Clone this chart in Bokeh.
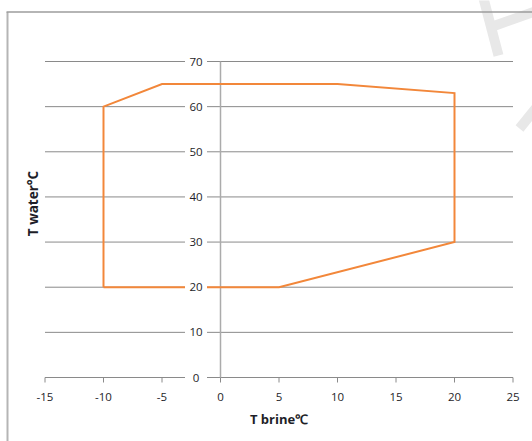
import math
from bokeh.plotting import figure
from bokeh.models import Range1d
from bokeh.embed import file_html
from bokeh.resources import INLINE
from bokeh.core.properties import value

# ---- data ----
brine = [-10, -10, -5, 10, 20, 20, 5, -10]
water = [20, 60, 65, 65, 63, 30, 20, 20]
x_ticks = [-15, -10, -5, 0, 5, 10, 15, 20, 25]
y_ticks = [0, 10, 20, 30, 40, 50, 60, 70]
x_labels = [str(t) for t in x_ticks]
y_labels = [str(t) for t in y_ticks]
x_title = "T brine\u2103"
y_title = "T water\u00b0C"

# ---- layout (canvas pixels) ----
W, H = 532, 441
X0_PX, Y0_PX = 220.0, 377.0   # canvas position of the data origin
KX, KY = 11.7, 316.0 / 70.0   # pixels per data unit


def dx(px):
    return px / KX


def dy(px):
    return px / KY


def cx(px):
    return (px - X0_PX) / KX


def cy(py):
    return (Y0_PX - py) / KY


FONT = value("Open Sans")
TXT = "#1e1e28"

p = figure(width=W, height=H,
           x_range=Range1d(cx(0), cx(W)), y_range=Range1d(cy(H), cy(0)),
           x_axis_location=None, y_axis_location=None,
           toolbar_location=None, output_backend="svg",
           min_border=0, outline_line_color=None,
           background_fill_color="white", border_fill_color="white")
p.grid.visible = False

# watermark fragments (top right)
p.segment(x0=[cx(482), cx(492), cx(519)], y0=[cy(-6), cy(26), cy(128)],
          x1=[cx(498), cx(540), cx(540)], y1=[cy(55), cy(9), cy(102)],
          line_color="#e8e8e8", line_width=10, line_cap="butt")

# outer frame (left and top edges visible)
p.segment(x0=[cx(7)], y0=[cy(11.5)], x1=[cx(7)], y1=[cy(H + 5)],
          line_color="#b5b5b5", line_width=2)
p.segment(x0=[cx(6)], y0=[cy(11.5)], x1=[cx(W + 5)], y1=[cy(11.5)],
          line_color="#9d9d9d", line_width=1.5)

# horizontal grid lines (incl. x axis at 0)
n = len(y_ticks)
p.segment(x0=[x_ticks[0]] * n, y0=y_ticks, x1=[x_ticks[-1]] * n, y1=y_ticks,
          line_color="#8a8a8a", line_width=1)

# x tick marks
m = len(x_ticks)
p.segment(x0=x_ticks, y0=[0] * m, x1=x_ticks, y1=[-dy(5)] * m,
          line_color="#8a8a8a", line_width=1)

# y axis line at x = 0
p.segment(x0=[0], y0=[y_ticks[0]], x1=[0], y1=[y_ticks[-1]],
          line_color="#ababab", line_width=1.5)

# envelope
p.line(brine, water, line_color="#f2873a", line_width=2, line_join="miter")

# y tick labels with white boxes
p.rect(x=[-dx(24.5)] * n, y=y_ticks, width=22, height=12,
       width_units="screen", height_units="screen",
       fill_color="white", line_color=None)
p.text(x=[-dx(24.5)] * n, y=y_ticks, text=y_labels,
       text_align="center", text_baseline="middle",
       text_font=FONT, text_font_size="11.5px", text_color=TXT)

# x tick labels
p.text(x=x_ticks, y=[-dy(19)] * m, text=x_labels,
       text_align="center", text_baseline="middle",
       text_font=FONT, text_font_size="11.5px", text_color=TXT)

# axis titles
p.text(x=[(x_ticks[0] + x_ticks[-1]) / 2], y=[-dy(41)], text=[x_title],
       text_align="center", text_baseline="middle",
       text_font=FONT, text_font_size="13px", text_font_style="bold",
       text_color=TXT)
p.text(x=[-dx(188)], y=[(y_ticks[0] + y_ticks[-1]) / 2 + dy(16)], text=[y_title],
       angle=math.pi / 2,
       text_align="center", text_baseline="middle",
       text_font=FONT, text_font_size="13.5px", text_font_style="bold",
       text_color=TXT)

open("out.html", "w").write(file_html(p, INLINE))
